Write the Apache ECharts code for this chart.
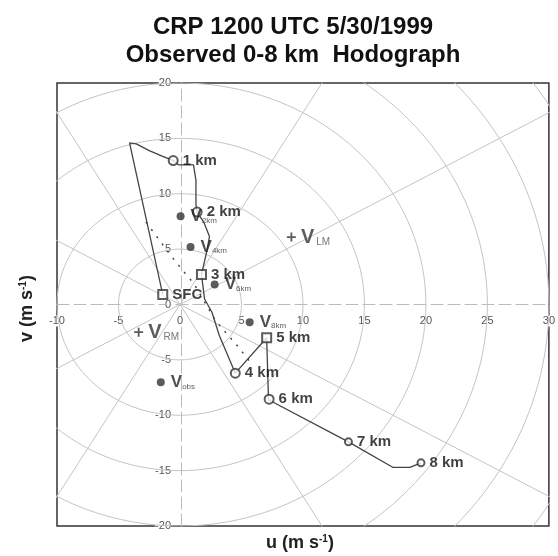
<!DOCTYPE html>
<html>
<head>
<meta charset="utf-8">
<script src="https://cdn.jsdelivr.net/npm/echarts@6/dist/echarts.min.js"></script>
<style>
  html, body { margin: 0; padding: 0; background: #fff; }
  #chart { width: 558px; height: 556px; }
</style>
</head>
<body>
<div id="chart"></div>
<script>
// observed wind profile (u, v in m/s)
const profileU = [-1.4, -4.1, -3.55, -2.5, -1.45, -0.55, -0.1, 1.1, 1.3, 1.3, 1.4, 1.95, 2.4, 2.2, 1.75, 2.0, 2.6, 3.2, 4.5, 7.05, 7.2, 13.7, 17.3, 18.7, 19.6];
const profileV = [0.9, 14.6, 14.5, 13.9, 13.4, 13.0, 12.6, 12.6, 11.2, 9.0, 8.35, 7.4, 6.15, 4.9, 2.7, 0.5, -0.7, -2.8, -6.2, -3.0, -8.6, -12.4, -14.7, -14.7, -14.3];

// height levels marked on the hodograph
const levelNames = ['SFC', '1 km', '2 km', '3 km', '4 km', '5 km', '6 km', '7 km', '8 km'];
const levelU = [-1.4, -0.55, 1.4, 1.75, 4.5, 7.05, 7.25, 13.7, 19.6];
const levelV = [0.9, 13.0, 8.35, 2.7, -6.2, -3.0, -8.55, -12.4, -14.3];
const levelSymbols = ['emptyRect', 'emptyCircle', 'emptyCircle', 'emptyRect', 'emptyCircle', 'emptyRect', 'emptyCircle', 'emptyCircle', 'emptyCircle'];

// mean winds
const meanNames = ['2km', '4km', '6km', '8km'];
const meanU = [0.05, 0.86, 2.82, 5.67];
const meanV = [7.96, 5.19, 1.81, -1.6];

// storm motions
const obsU = -1.56, obsV = -7.03;
const motionNames = ['LM', 'RM'];
const motionU = [9.06, -3.36];
const motionV = [6.09, -2.5];

// dotted shear line
const shearU = [-2.77, -1.56, -0.65, 0.56, 1.13, 2.88, 4.76, 5.81];
const shearV = [7.45, 5.64, 4.28, 2.62, 1.9, -1.45, -3.86, -5.34];

// polar background
const ringRadii = [5, 10, 15, 20, 25, 30, 35];
const spokeAngles = [30, 60, 120, 150, 210, 240, 300, 330];

const ringColor = '#c4c4c4';
const font = 'Liberation Sans';

const chart = echarts.init(document.getElementById('chart'));

const bgSeries = [];
ringRadii.forEach(function (r) {
  const pts = [];
  for (let a = 0; a <= 360; a += 2) {
    const t = a * Math.PI / 180;
    pts.push([r * Math.cos(t), r * Math.sin(t)]);
  }
  bgSeries.push({
    type: 'line', data: pts, symbol: 'none', silent: true, z: 1,
    lineStyle: { color: ringColor, width: 1 }
  });
});
spokeAngles.forEach(function (deg) {
  const t = deg * Math.PI / 180;
  bgSeries.push({
    type: 'line', data: [[0, 0], [45 * Math.cos(t), 45 * Math.sin(t)]],
    symbol: 'none', silent: true, z: 1,
    lineStyle: { color: ringColor, width: 1 }
  });
});

const vRich = {
  b: { fontSize: 17, fontWeight: 'bold', color: '#222', fontFamily: font },
  s: { fontSize: 8, color: '#333', fontFamily: font, padding: [8, 0, 0, 0] }
};

const supRich = { sup: { fontSize: 10, fontWeight: 'bold', fill: '#222', fontFamily: font, padding: [0, 0, 9, 0] } };

const option = {
  backgroundColor: '#fff',
  animation: false,
  title: [
    { text: 'CRP 1200 UTC 5/30/1999', left: 288, top: 10, textAlign: 'center',
      textStyle: { fontSize: 24, fontWeight: 'bold', color: '#111', fontFamily: font } },
    { text: 'Observed 0-8 km  Hodograph', left: 288, top: 38, textAlign: 'center',
      textStyle: { fontSize: 24, fontWeight: 'bold', color: '#111', fontFamily: font } }
  ],
  grid: { left: 57, right: 5, top: 83, bottom: 30, show: true, borderColor: '#333', borderWidth: 1.5, z: 0 },
  xAxis: {
    type: 'value', min: -10, max: 30, interval: 5, position: 'bottom', offset: -221.5,
    axisLine: { onZero: false, lineStyle: { color: '#bbb', type: [12, 5], width: 1 } },
    axisTick: { show: false },
    splitLine: { show: false },
    axisLabel: { color: '#555', fontSize: 11, fontFamily: font, margin: 11, backgroundColor: '#fff',
      showMinLabel: true, showMaxLabel: true }
  },
  yAxis: {
    type: 'value', min: -20, max: 20, interval: 5, position: 'left', offset: -124,
    axisLine: { onZero: false, lineStyle: { color: '#bbb', type: [12, 5], width: 1 } },
    axisTick: { show: false },
    splitLine: { show: false },
    axisLabel: { color: '#555', fontSize: 11, fontFamily: font, margin: 10, backgroundColor: '#fff',
      showMinLabel: true, showMaxLabel: true }
  },
  graphic: [
    { type: 'text', x: 266, y: 534, z: 100,
      style: { text: 'u (m s{sup|-1})', fontSize: 18, fontWeight: 'bold', fill: '#222', fontFamily: font, rich: supRich } },
    { type: 'text', x: 18, y: 342, rotation: Math.PI / 2, z: 100,
      style: { text: 'v (m s{sup|-1})', fontSize: 18, fontWeight: 'bold', fill: '#222', fontFamily: font, rich: supRich } }
  ],
  series: bgSeries.concat([
    {
      type: 'line', z: 5, symbol: 'none',
      data: shearU.map(function (u, i) { return [u, shearV[i]]; }),
      lineStyle: { color: '#444', width: 1.5, type: [2, 7] }
    },
    {
      type: 'line', z: 6, symbol: 'none',
      data: profileU.map(function (u, i) { return [u, profileV[i]]; }),
      lineStyle: { color: '#444', width: 1.3 }
    },
    {
      type: 'scatter', z: 10,
      data: levelU.map(function (u, i) {
        return { value: [u, levelV[i]], name: levelNames[i], symbol: levelSymbols[i],
          symbolSize: i >= 7 ? 7 : 9 };
      }),
      itemStyle: { color: '#333', borderWidth: 1.3 },
      label: { show: true, position: 'right', distance: 4, formatter: '{b}',
        fontSize: 15, fontWeight: 'bold', color: '#111', fontFamily: font }
    },
    {
      type: 'scatter', z: 11,
      data: meanU.map(function (u, i) { return { value: [u, meanV[i]], name: meanNames[i] }; })
        .concat([{ value: [obsU, obsV], name: 'obs' }]),
      symbol: 'circle', symbolSize: 8,
      itemStyle: { color: '#333' },
      label: { show: true, position: 'right', distance: 6, formatter: '{b|V}{s|{b}}', rich: vRich }
    },
    {
      type: 'scatter', z: 11,
      data: motionU.map(function (u, i) { return { value: [u, motionV[i]], name: motionNames[i] }; }),
      symbol: 'path://M4,0H6V4H10V6H6V10H4V6H0V4H4Z', symbolSize: 9,
      itemStyle: { color: '#333' },
      label: { show: true, position: 'right', distance: 5, formatter: '{b|V}{s|{b}}',
        rich: {
          b: { fontSize: 20, fontWeight: 'bold', color: '#333', fontFamily: font },
          s: { fontSize: 10, color: '#555', fontFamily: font, padding: [10, 0, 0, 2] }
        } }
    }
  ])
};

chart.setOption(option);
</script>
</body>
</html>
